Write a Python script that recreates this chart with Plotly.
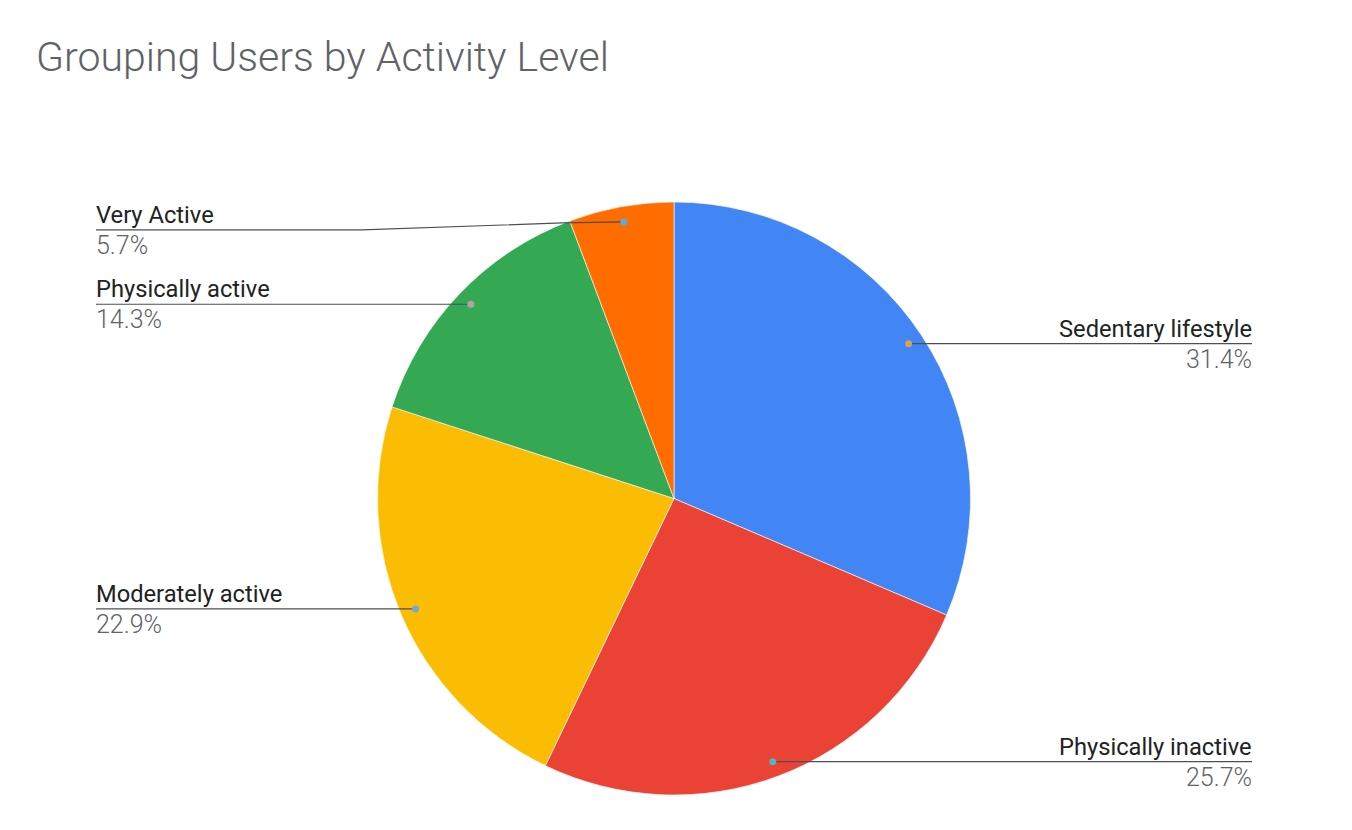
import math
import plotly.graph_objects as go

# ---- data ----
categories = ["Sedentary lifestyle", "Physically inactive", "Moderately active",
              "Physically active", "Very Active"]
user_counts = [11, 9, 8, 5, 2]
slice_colors = ["#4285F4", "#EA4335", "#FBBC04", "#34A853", "#FF6D01"]
dot_colors = ["#D9A24E", "#4DB8C2", "#6FA8DC", "#B5A3AC", "#5AAAE6"]
title_text = "Grouping Users by Activity Level"

# ---- layout geometry (pixels in the screenshot) ----
W, H = 1352, 830
OFF = 8  # page body margin
cx, cy, R = 674, 498.5, 296.5
dot_r_frac = 0.948
left_x, right_x = 96, 1252
text_pad = 2
label_dy = [0, 0, 0, 0, 8]   # vertical label shift to avoid crowding


def px(x):
    return (x - OFF) / W


def py(y):
    return 1 - (y - OFF) / H


fig = go.Figure()
fig.add_trace(go.Pie(
    labels=categories,
    values=user_counts,
    marker=dict(colors=slice_colors, line=dict(color="white", width=0.6)),
    sort=False,
    direction="clockwise",
    rotation=0,
    textinfo="none",
    hoverinfo="label+percent+value",
    showlegend=False,
    domain=dict(x=[px(cx - R), px(cx + R)], y=[py(cy + R), py(cy - R)]),
))

total = sum(user_counts)
shapes = []
annotations = []
cum = 0
for i, (name, v) in enumerate(zip(categories, user_counts)):
    mid = (cum + v / 2) / total
    cum += v
    ang = 2 * math.pi * mid
    dx = R * dot_r_frac * math.sin(ang)
    dy = -R * dot_r_frac * math.cos(ang)
    dxp, dyp = cx + dx, cy + dy
    ly = dyp + label_dy[i]
    right = math.sin(ang) > 0
    pct = f"{100 * v / total:.1f}%"
    line_col = "#4a4f5a"
    if label_dy[i] == 0:
        x_end = right_x if right else left_x
        shapes.append(dict(type="line", xref="paper", yref="paper",
                           x0=px(dxp), y0=py(dyp), x1=px(x_end), y1=py(ly),
                           line=dict(color=line_col, width=1.2)))
    else:
        # horizontal to pie edge, then slanted to label line
        edge_x = cx - math.sqrt(max(R ** 2 - (dyp + 2 - cy) ** 2, 0))
        bend_x = edge_x - 200
        path = (f"M {px(dxp)},{py(dyp)} L {px(edge_x)},{py(dyp + 1)} "
                f"L {px(bend_x)},{py(ly)} L {px(left_x)},{py(ly)}")
        shapes.append(dict(type="path", xref="paper", yref="paper", path=path,
                           line=dict(color=line_col, width=1.2)))
    shapes.append(dict(type="circle", xref="paper", yref="paper",
                       x0=px(dxp - 3.5), x1=px(dxp + 3.5),
                       y0=py(dyp - 3.5), y1=py(dyp + 3.5),
                       fillcolor=dot_colors[i], line=dict(width=0)))
    xa = px(right_x + text_pad) if right else px(left_x - text_pad)
    xanchor = "right" if right else "left"
    annotations.append(dict(xref="paper", yref="paper", x=xa, y=py(ly + 1),
                            xanchor=xanchor, yanchor="bottom", text=name,
                            showarrow=False,
                            font=dict(family="Roboto", size=23.7, color="#222222")))
    annotations.append(dict(xref="paper", yref="paper", x=xa, y=py(ly - 1),
                            xanchor=xanchor, yanchor="top", text=pct,
                            showarrow=False,
                            font=dict(family="Roboto", size=25, color="#5f6368",
                                      weight=300)))

fig.update_layout(
    width=W, height=H,
    margin=dict(l=0, r=0, t=0, b=0),
    paper_bgcolor="white",
    plot_bgcolor="white",
    title=dict(text=title_text, x=px(36), xanchor="left", y=py(57), yanchor="middle",
               font=dict(family="Roboto", size=41, color="#5f6368", weight=300)),
    shapes=shapes,
    annotations=annotations,
)

fig.write_html("out.html")
